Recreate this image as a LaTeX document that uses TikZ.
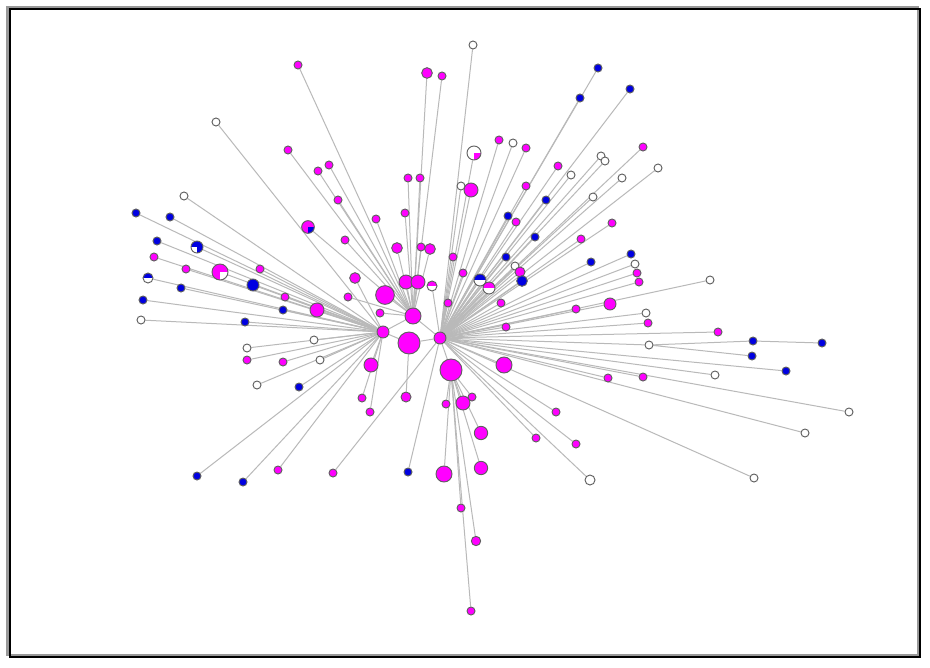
\documentclass[tikz,border=0pt]{standalone}
\usepackage{xcolor}
\usepackage{tikz}
\usetikzlibrary{backgrounds}
\definecolor{NodeMag}{RGB}{255,0,255}
\definecolor{NodeBlue}{RGB}{0,0,225}
\definecolor{LinkGrey}{RGB}{185,185,185}
\definecolor{Rim}{RGB}{95,95,95}

\begin{document}
\begin{tikzpicture}[
  x=0.75pt, y=-0.75pt,
  vtx/.style={circle, draw=Rim, line width=0.7pt, inner sep=0pt},
  mg/.style={vtx, fill=NodeMag},
  bl/.style={vtx, fill=NodeBlue},
  wh/.style={vtx, fill=white},
  halfBW/.style={wh, path picture={\fill[NodeBlue] (path picture bounding box.west)
    rectangle (path picture bounding box.north east);}},
  halfMW/.style={wh, path picture={\fill[NodeMag] (path picture bounding box.west)
    rectangle (path picture bounding box.north east);}},
  qWM/.style={wh, path picture={\fill[NodeMag] (path picture bounding box.center)
    rectangle (path picture bounding box.south east);}},
  qMB/.style={mg, path picture={\fill[NodeBlue] (path picture bounding box.center)
    rectangle (path picture bounding box.south east);}},
  qMW/.style={mg, path picture={\fill[white] (path picture bounding box.center)
    rectangle (path picture bounding box.south east);}},
  qBW/.style={bl, path picture={\fill[white] (path picture bounding box.center)
    rectangle (path picture bounding box.south west);}},
  link/.style={draw=LinkGrey, line width=0.75pt},
]
\useasboundingbox (0,0) rectangle (930,667);
\begin{scope}[on background layer]
  \fill[white] (0,0) rectangle (930,667);
  \draw[black!40, line width=1.6pt] (7.5,7) rectangle (918,655);
  \draw[line width=1.1pt] (10,9) rectangle (920,657);
\end{scope}

% hubs
\node[mg, minimum size=12pt] (hT) at (413,316) {};
\node[mg, minimum size=9pt] (hB) at (440,338) {};
\node[mg, minimum size=9pt] (hC) at (383,332) {};
\node[mg, minimum size=16.5pt] (hA) at (409,343) {};
\node[mg, minimum size=16.5pt] (hD) at (451,370) {};
\begin{pgfonlayer}{background}
  \draw[link] (hT) -- (hB) (hA) -- (hB) (hC) -- (hT) (hC) -- (hA) (hD) -- (hB);
\end{pgfonlayer}

% upper fan
\foreach \n/\x/\y/\s/\d in {
  t1/298/65/mg/6, t2/427/73/mg/8, t3/442/76/mg/6, t4/288/150/mg/6,
  t5/329/165/mg/6, t6/318/171/mg/6, t7/408/178/mg/6, t8/420/178/mg/6,
  t9/338/200/mg/6, t10/405/213/mg/6, t11/376/219/mg/6, t12/345/240/mg/6,
  t13/308/227/qMB/9.5, t14/397/248/mg/8, t15/421/247/mg/6, t16/430/249/mg/8,
  t17/406/282/mg/10.5, t18/418/282/mg/10.5, t19/385/295/mg/14, t20/348/297/mg/6,
  t21/380/313/mg/6}
{
  \node[\s, minimum size=\d pt] (\n) at (\x,\y) {};
  \begin{pgfonlayer}{background}\draw[link] (\n) -- (hT);\end{pgfonlayer}
}

% right fan
\foreach \n/\x/\y/\s/\d in {
  r1/473/45/wh/6, r2/598/68/bl/6, r3/580/98/bl/6, r4/630/89/bl/6,
  r5/474/153/qWM/10.5, r6/499/140/mg/6, r7/513/143/wh/6, r8/526/148/mg/6,
  r9/601/156/wh/6, r10/605/161/wh/6, r11/643/147/mg/6, r12/658/168/wh/6,
  r13/461/186/wh/6, r14/471/190/mg/10.5, r15/526/186/mg/6, r16/558/166/mg/6,
  r17/571/175/wh/6, r18/622/178/wh/6, r19/593/197/wh/6, r20/546/200/bl/6,
  r21/508/216/bl/6, r22/516/222/mg/6, r23/612/223/mg/6, r24/535/237/bl/6,
  r25/581/239/mg/6, r26/453/257/mg/6, r27/631/254/bl/6, r28/506/257/bl/6,
  r29/591/262/bl/6, r30/635/264/wh/6, r31/637/273/mg/6, r32/639/282/mg/6,
  r33/480/280/halfBW/9, r34/463/273/mg/6, r35/515/266/wh/6, r36/520/272/mg/7.5,
  r37/522/281/bl/8, r38/489/288/halfMW/9, r39/432/286/halfMW/7.5, r40/448/303/mg/6,
  r41/501/303/mg/6, r42/610/304/mg/9, r43/710/280/wh/6, r44/576/309/mg/6,
  r45/646/313/wh/6, r46/648/323/mg/6, r47/506/327/mg/6, r48/718/332/mg/6,
  r49/649/345/wh/6, r50/504/365/mg/12, r51/786/371/bl/6, r52/715/375/wh/6,
  r53/608/378/mg/6, r54/643/377/mg/6, r55/849/412/wh/6, r56/556/412/mg/6,
  r57/536/438/mg/6, r58/805/433/wh/6, r59/576/444/mg/6, r60/590/480/wh/7.5,
  r61/754/478/wh/6, r62/408/472/bl/6, r63/333/473/mg/6}
{
  \node[\s, minimum size=\d pt] (\n) at (\x,\y) {};
  \begin{pgfonlayer}{background}\draw[link] (\n) -- (hB);\end{pgfonlayer}
}

% far right chain
\node[bl, minimum size=6pt] (r64) at (753,341) {};
\node[bl, minimum size=6pt] (r65) at (822,343) {};
\node[bl, minimum size=6pt] (r66) at (752,356) {};
\begin{pgfonlayer}{background}
  \draw[link] (r65) -- (r64) -- (r49) (r66) -- (r49);
\end{pgfonlayer}

% left fan
\foreach \n/\x/\y/\s/\d in {
  l1/216/122/wh/6, l2/184/196/wh/6, l3/136/213/bl/6, l4/170/217/bl/6,
  l5/157/241/bl/6, l6/197/247/qBW/9, l7/154/257/mg/6, l8/186/269/mg/6,
  l9/220/272/qMW/12, l10/260/269/mg/6, l11/148/278/halfBW/7.5, l12/181/288/bl/6,
  l13/253/285/bl/9, l14/285/297/mg/6, l15/143/300/bl/6, l16/317/310/mg/10.5,
  l17/283/310/bl/6, l18/141/320/wh/6, l19/245/322/bl/6, l20/314/340/wh/6,
  l21/247/348/wh/6, l22/247/360/mg/6, l23/283/362/mg/6, l24/320/360/wh/6,
  l25/257/385/wh/6, l26/299/387/bl/6, l27/197/476/bl/6, l28/243/482/bl/6,
  l29/278/470/mg/6, l30/371/365/mg/10.5, l31/362/398/mg/6, l32/370/412/mg/6,
  l33/355/278/mg/8}
{
  \node[\s, minimum size=\d pt] (\n) at (\x,\y) {};
  \begin{pgfonlayer}{background}\draw[link] (\n) -- (hC);\end{pgfonlayer}
}

% lower fan
\foreach \n/\x/\y/\s/\d in {
  b1/472/397/mg/6, b2/446/404/mg/6, b3/463/403/mg/10.5, b4/481/433/mg/10,
  b5/444/474/mg/12, b6/481/468/mg/10, b7/461/508/mg/6, b8/476/541/mg/7,
  b9/471/611/mg/6}
{
  \node[\s, minimum size=\d pt] (\n) at (\x,\y) {};
  \begin{pgfonlayer}{background}\draw[link] (\n) -- (hD);\end{pgfonlayer}
}
\node[mg, minimum size=7.5pt] (b10) at (406,397) {};
\begin{pgfonlayer}{background}\draw[link] (b10) -- (hA);\end{pgfonlayer}
\end{tikzpicture}
\end{document}
